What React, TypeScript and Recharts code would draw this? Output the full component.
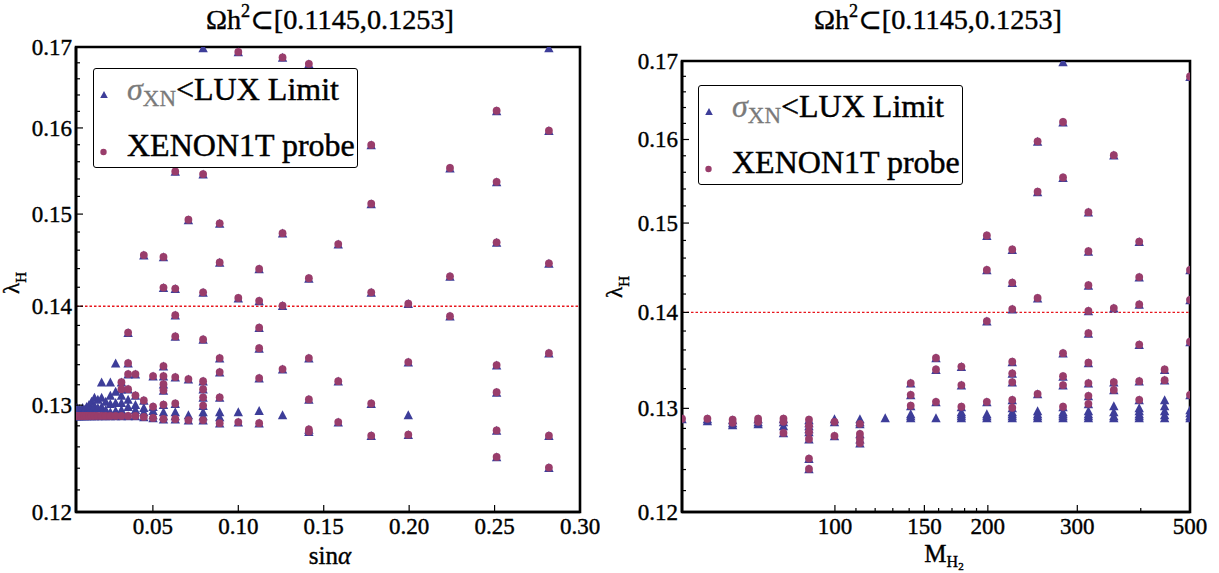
import React from 'react';
import { ScatterChart, Scatter, XAxis, YAxis, ReferenceLine, ReferenceArea, Legend } from 'recharts';

const FONT = '"Liberation Serif", "DejaVu Serif", serif';
const LUX_COLOR = '#3d3d99';
const XE_COLOR = '#993d6b';
const LIMIT_COLOR = '#e8161d';
const AXIS = { stroke: '#000', strokeWidth: 2.6 };
const TXT: React.CSSProperties = { fontFamily: FONT, fill: '#000', stroke: '#000', strokeWidth: 0.4 };

const lambdaMajor = [0.12, 0.13, 0.14, 0.15, 0.16, 0.17];
const lambdaMajorLabels = ['0.12', '0.13', '0.14', '0.15', '0.16', '0.17'];
const lambdaMinor = [
  0.122, 0.124, 0.126, 0.128, 0.132, 0.134, 0.136, 0.138, 0.142, 0.144, 0.146, 0.148,
  0.152, 0.154, 0.156, 0.158, 0.162, 0.164, 0.166, 0.168,
];
const sinMajor = [0.05, 0.1, 0.15, 0.2, 0.25, 0.3];
const sinMajorLabels = ['0.05', '0.10', '0.15', '0.20', '0.25', '0.30'];
const massMajor = [100, 150, 200, 300, 500];
const massMajorLabels = ['100', '150', '200', '300', '500'];
const massMinor = [110, 120, 130, 140, 160, 170, 180, 190, 400];

const titleMain = 'Ωh';
const titleSup = '2';
const titleRest = '⊂[0.1145,0.1253]';
const limitLambda = 0.14;

const leftBoth: [number, number][] = [
  [0.005, 0.1289], [0.0056, 0.1289], [0.0063, 0.1289], [0.0071, 0.1289], [0.0079, 0.1289], [0.0089, 0.1289],
  [0.01, 0.1289], [0.0112, 0.1289], [0.0126, 0.1289], [0.0141, 0.1289], [0.0158, 0.1289], [0.0178, 0.1289],
  [0.02, 0.1289], [0.0224, 0.1289], [0.0251, 0.1289], [0.0282, 0.1289], [0.0316, 0.1289],
  [0.0316, 0.1322], [0.0316, 0.1315],
  [0.0355, 0.1372], [0.0355, 0.1341], [0.0355, 0.133], [0.0355, 0.1315], [0.0355, 0.1289],
  [0.0398, 0.133], [0.0398, 0.1309], [0.0398, 0.1289],
  [0.0447, 0.1454], [0.0447, 0.1304], [0.0447, 0.1288],
  [0.0501, 0.1328], [0.0501, 0.1298], [0.0501, 0.1287],
  [0.0562, 0.1452], [0.0562, 0.1419], [0.0562, 0.1338], [0.0562, 0.1328], [0.0562, 0.132], [0.0562, 0.1314], [0.0562, 0.13], [0.0562, 0.1286],
  [0.0631, 0.1548], [0.0631, 0.1418], [0.0631, 0.139], [0.0631, 0.1368], [0.0631, 0.1327], [0.0631, 0.1301], [0.0631, 0.1286],
  [0.0708, 0.1493], [0.0708, 0.1325], [0.0708, 0.1285],
  [0.0794, 0.1545], [0.0794, 0.1414], [0.0794, 0.1365], [0.0794, 0.1323], [0.0794, 0.1315], [0.0794, 0.1307], [0.0794, 0.1299], [0.0794, 0.1285],
  [0.0891, 0.1489], [0.0891, 0.1446], [0.0891, 0.1346], [0.0891, 0.1332], [0.0891, 0.1307], [0.0891, 0.1282],
  [0.1, 0.1693], [0.1, 0.1408], [0.1, 0.1283],
  [0.1122, 0.1439], [0.1122, 0.1405], [0.1122, 0.1377], [0.1122, 0.1356], [0.1122, 0.1326], [0.1122, 0.1282],
  [0.1259, 0.1686], [0.1259, 0.1478], [0.1259, 0.14], [0.1259, 0.1335],
  [0.1413, 0.1678], [0.1413, 0.1429], [0.1413, 0.1346], [0.1413, 0.1305], [0.1413, 0.1276], [0.1413, 0.1274],
  [0.1585, 0.1466], [0.1585, 0.1323], [0.1585, 0.1283],
  [0.1778, 0.1579], [0.1778, 0.1511], [0.1778, 0.1414], [0.1778, 0.1301], [0.1778, 0.127],
  [0.1995, 0.1402], [0.1995, 0.1342], [0.1995, 0.1271],
  [0.2239, 0.1552], [0.2239, 0.1431], [0.2239, 0.1389],
  [0.2512, 0.162], [0.2512, 0.1536], [0.2512, 0.1468], [0.2512, 0.1339], [0.2512, 0.1312], [0.2512, 0.1275], [0.2512, 0.125],
  [0.2818, 0.1596], [0.2818, 0.1445], [0.2818, 0.1351], [0.2818, 0.127], [0.2818, 0.124],
];

const leftLuxOnly: [number, number][] = [
  [0.005, 0.1292], [0.005, 0.1296], [0.0056, 0.1297], [0.0056, 0.1292], [0.0063, 0.1294],
  [0.0071, 0.1296], [0.0071, 0.1292], [0.0079, 0.1294], [0.0089, 0.1297], [0.0089, 0.1292],
  [0.01, 0.1295], [0.0112, 0.1298], [0.0112, 0.1293], [0.0126, 0.13], [0.0126, 0.1294],
  [0.0141, 0.1303], [0.0141, 0.1296], [0.0158, 0.1307], [0.0158, 0.1299], [0.0158, 0.1293],
  [0.0178, 0.1305], [0.0178, 0.1297], [0.02, 0.1322], [0.02, 0.1307], [0.02, 0.1298], [0.02, 0.1292],
  [0.0224, 0.1303], [0.0224, 0.1295], [0.0251, 0.1322], [0.0251, 0.1309], [0.0251, 0.1301], [0.0251, 0.1293],
  [0.0282, 0.1341], [0.0282, 0.1313], [0.0282, 0.1302], [0.0282, 0.1294],
  [0.0316, 0.1309], [0.0316, 0.1302], [0.0316, 0.1295], [0.0355, 0.1305], [0.0355, 0.1298],
  [0.0398, 0.13], [0.0398, 0.1295], [0.0447, 0.1297], [0.0447, 0.1293], [0.0501, 0.1294], [0.0501, 0.129],
  [0.0562, 0.1293], [0.0562, 0.1289], [0.0631, 0.1293], [0.0631, 0.1289], [0.0708, 0.129],
  [0.0794, 0.1293], [0.0794, 0.1289], [0.0891, 0.1293], [0.0891, 0.1288], [0.0794, 0.1698],
  [0.1, 0.1293], [0.1122, 0.1294], [0.1259, 0.129], [0.1995, 0.129], [0.2818, 0.1698],
];

const rightBoth: [number, number][] = [
  [50, 0.1289], [56.1, 0.1289], [62.9, 0.1288], [62.9, 0.1285], [70.6, 0.1289], [70.6, 0.1286],
  [79.2, 0.1289], [79.2, 0.1286], [79.2, 0.1275],
  [88.9, 0.1288], [88.9, 0.1282], [88.9, 0.1276], [88.9, 0.1269], [88.9, 0.125], [88.9, 0.124],
  [99.8, 0.1286], [99.8, 0.1272],
  [112, 0.1284], [112, 0.1274], [112, 0.1269], [112, 0.1265],
  [141, 0.1325], [141, 0.1313], [141, 0.1302],
  [158.1, 0.1351], [158.1, 0.1339], [158.1, 0.1306],
  [177.4, 0.1342], [177.4, 0.1323], [177.4, 0.1301],
  [199.1, 0.1485], [199.1, 0.1446], [199.1, 0.139], [199.1, 0.1306],
  [223.4, 0.1469], [223.4, 0.1432], [223.4, 0.1403], [223.4, 0.1347], [223.4, 0.1335], [223.4, 0.1326], [223.4, 0.1308], [223.4, 0.13],
  [250.6, 0.1597], [250.6, 0.1536], [250.6, 0.1415], [250.6, 0.1314],
  [281.2, 0.1621], [281.2, 0.1553], [281.2, 0.1356], [281.2, 0.1332], [281.2, 0.1323], [281.2, 0.1301],
  [315.5, 0.1512], [315.5, 0.1467], [315.5, 0.1429], [315.5, 0.1401], [315.5, 0.1377], [315.5, 0.1346], [315.5, 0.1325], [315.5, 0.1312], [315.5, 0.1304],
  [354, 0.158], [354, 0.1404], [354, 0.1326], [354, 0.1318],
  [397.2, 0.1478], [397.2, 0.1438], [397.2, 0.1408], [397.2, 0.1365], [397.2, 0.1327], [397.2, 0.1308],
  [445.7, 0.1339], [445.7, 0.1328],
  [500, 0.1679], [500, 0.1446], [500, 0.1413], [500, 0.1368], [500, 0.1313],
];

const rightLuxOnly: [number, number][] = [
  [56.1, 0.1287], [62.9, 0.1283], [70.6, 0.1284], [79.2, 0.1282], [88.9, 0.1285], [88.9, 0.1279],
  [99.8, 0.1289], [112, 0.1289], [112, 0.1286], [125.6, 0.129],
  [141, 0.129], [141, 0.1292], [141, 0.1294], [158.1, 0.129],
  [177.4, 0.129], [177.4, 0.1292], [177.4, 0.1294], [177.4, 0.1296],
  [199.1, 0.129], [199.1, 0.1292], [199.1, 0.1294],
  [223.4, 0.129], [223.4, 0.1292], [223.4, 0.1294], [223.4, 0.1296],
  [250.6, 0.129], [250.6, 0.1292], [250.6, 0.1294], [250.6, 0.1297],
  [281.2, 0.129], [281.2, 0.1292], [281.2, 0.1294], [281.2, 0.1296], [281.2, 0.1698],
  [315.5, 0.129], [315.5, 0.1292], [315.5, 0.1294], [315.5, 0.1297],
  [354, 0.129], [354, 0.1292], [354, 0.1296], [354, 0.1302],
  [397.2, 0.129], [397.2, 0.1292], [397.2, 0.1294], [397.2, 0.1297], [397.2, 0.13],
  [445.7, 0.129], [445.7, 0.1293], [445.7, 0.1297], [445.7, 0.1302], [445.7, 0.1308],
  [500, 0.129], [500, 0.1292], [500, 0.1295], [500, 0.1298],
];

const toPts = (arr: [number, number][]) => arr.map(([x, y]) => ({ x, y }));

const TriangleShape = (p: any) => {
  const { cx, cy } = p;
  if (cx == null || cy == null) return <g />;
  return <polygon points={`${cx},${cy - 5.2} ${cx - 4.7},${cy + 3.8} ${cx + 4.7},${cy + 3.8}`} fill={LUX_COLOR} />;
};
const DotShape = (p: any) => {
  const { cx, cy } = p;
  if (cx == null || cy == null) return <g />;
  return <circle cx={cx} cy={cy - 0.6} r={3.9} fill={XE_COLOR} />;
};

const findIdx = (v: number, arr: number[]) => arr.findIndex((a) => Math.abs(a - v) < 1e-9);

const makeTick = (side: 'left' | 'right' | 'top' | 'bottom', majors: number[], labels: string[] | null) => (p: any) => {
  const { x, y, payload } = p;
  const idx = findIdx(payload.value, majors);
  const len = idx >= 0 ? 7 : 4;
  let x2 = x;
  let y2 = y;
  if (side === 'left') x2 = x + len;
  if (side === 'right') x2 = x - len;
  if (side === 'bottom') y2 = y - len;
  if (side === 'top') y2 = y + len;
  return (
    <g>
      <line x1={x} y1={y} x2={x2} y2={y2} style={{ stroke: '#000', strokeWidth: 1.2 }} />
      {labels && idx >= 0 && side === 'left' && (
        <text x={x - 4} y={y + 8} textAnchor="end" fontSize={23} style={TXT}>
          {labels[idx]}
        </text>
      )}
      {labels && idx >= 0 && side === 'bottom' && (
        <text x={x} y={y + 22} textAnchor="middle" fontSize={23} style={TXT}>
          {labels[idx]}
        </text>
      )}
    </g>
  );
};

const BottomLabels = ({ titleX, labelX, labelY, kind }: any) => (
  <g>
    <text
      x={titleX - 124}
      y={29}
      fontSize={28}
      textAnchor="start"
      textLength={248}
      lengthAdjust="spacingAndGlyphs"
      style={TXT}
    >
      {titleMain}
      <tspan fontSize={18} dy={-12}>{titleSup}</tspan>
      <tspan dy={12}>{titleRest}</tspan>
    </text>
    {kind === 'sin' ? (
      <text x={labelX} y={labelY} textAnchor="middle" fontSize={25} style={TXT}>
        sin<tspan fontStyle="italic">α</tspan>
      </text>
    ) : (
      <text x={labelX} y={labelY} textAnchor="middle" fontSize={25} style={TXT}>
        M<tspan fontSize={16} dy={5}>H</tspan>
        <tspan fontSize={11} dy={3}>2</tspan>
      </text>
    )}
  </g>
);

const LambdaLabel = ({ px, py }: any) => (
  <text transform={`translate(${px},${py}) rotate(-90)`} textAnchor="middle" fontSize={23} style={TXT}>
    λ<tspan fontSize={15} dy={7}>H</tspan>
  </text>
);

const LEG_TXT: React.CSSProperties = { fontFamily: FONT, fill: '#000', stroke: '#000', strokeWidth: 0.45 };
const LEG_GRAY: React.CSSProperties = { fill: '#7a7a7a', stroke: '#7a7a7a', strokeWidth: 0.3 };

const LegendBox = () => (
  <div
    style={{
      width: 265,
      height: 100,
      border: '1.5px solid #000',
      borderRadius: 3,
      background: '#fff',
      boxSizing: 'border-box',
      position: 'relative',
    }}
  >
    <svg width={265} height={100} style={{ position: 'absolute', left: -1.5, top: -1.5, overflow: 'visible' }}>
      <polygon points="11,23 7.2,30 14.8,30" fill={LUX_COLOR} />
      <text x={34} y={32} fontSize={32} style={LEG_TXT}>
        <tspan style={LEG_GRAY} fontStyle="italic">σ</tspan>
        <tspan style={LEG_GRAY} fontSize={23} dy={6}>XN</tspan>
        <tspan dy={-6}>&lt;LUX Limit</tspan>
      </text>
      <circle cx={10.5} cy={84} r={3.2} fill={XE_COLOR} />
      <text x={34} y={88} fontSize={32} style={LEG_TXT}>
        XENON1T probe
      </text>
    </svg>
  </div>
);

type PanelProps = {
  left: number;
  width: number;
  margin: { top: number; right: number; bottom: number; left: number };
  yAxisWidth: number;
  xScale: 'linear' | 'log';
  xDomain: [number, number];
  xTicks: number[];
  xMajor: number[];
  xLabels: string[];
  both: [number, number][];
  luxOnly: [number, number][];
  legendPos: { left: number; top: number };
  titleX: number;
  labelX: number;
  labelY: number;
  kind: string;
  yLabelPos: { px: number; py: number };
};

const Panel = (p: PanelProps) => (
  <div style={{ position: 'absolute', left: p.left, top: 0, width: p.width, height: 573, fontFamily: FONT }}>
    <ScatterChart width={p.width} height={573} margin={p.margin}>
      <XAxis
        xAxisId="b"
        orientation="bottom"
        type="number"
        dataKey="x"
        scale={p.xScale}
        domain={p.xDomain}
        allowDataOverflow
        ticks={p.xTicks}
        interval={0}
        height={61}
        tickSize={0}
        tickMargin={0}
        tickLine={false}
        axisLine={AXIS}
        stroke="#000"
        tick={makeTick('bottom', p.xMajor, p.xLabels)}
        label={<BottomLabels titleX={p.titleX} labelX={p.labelX} labelY={p.labelY} kind={p.kind} />}
      />
      <XAxis
        xAxisId="t"
        orientation="top"
        type="number"
        scale={p.xScale}
        domain={p.xDomain}
        allowDataOverflow
        ticks={p.xTicks}
        interval={0}
        height={0}
        tickSize={0}
        tickMargin={0}
        tickLine={false}
        axisLine={AXIS}
        stroke="#000"
        tick={makeTick('top', p.xMajor, null)}
      />
      <YAxis
        yAxisId="l"
        orientation="left"
        type="number"
        dataKey="y"
        scale="log"
        domain={[0.12, 0.17]}
        allowDataOverflow
        ticks={[...lambdaMajor, ...lambdaMinor]}
        interval={0}
        width={p.yAxisWidth}
        tickSize={0}
        tickMargin={0}
        tickLine={false}
        axisLine={AXIS}
        stroke="#000"
        tick={makeTick('left', lambdaMajor, lambdaMajorLabels)}
        label={<LambdaLabel px={p.yLabelPos.px} py={p.yLabelPos.py} />}
      />
      <YAxis
        yAxisId="r"
        orientation="right"
        type="number"
        scale="log"
        domain={[0.12, 0.17]}
        allowDataOverflow
        ticks={[...lambdaMajor, ...lambdaMinor]}
        interval={0}
        width={0}
        tickSize={0}
        tickMargin={0}
        tickLine={false}
        axisLine={AXIS}
        stroke="#000"
        tick={makeTick('right', lambdaMajor, null)}
      />
      <ReferenceArea
        xAxisId="b"
        yAxisId="l"
        x1={p.xDomain[0]}
        x2={p.xDomain[1]}
        y1={0.12}
        y2={0.17}
        fill="none"
        fillOpacity={0}
        stroke="#000"
        strokeWidth={2.6}
        strokeOpacity={1}
        ifOverflow="visible"
      />
      <ReferenceLine
        xAxisId="b"
        yAxisId="l"
        y={limitLambda}
        stroke={LIMIT_COLOR}
        strokeWidth={1.4}
        strokeDasharray="2.5 2"
      />
      <Scatter
        name="LUX"
        xAxisId="b"
        yAxisId="l"
        data={toPts([...p.luxOnly, ...p.both])}
        shape={TriangleShape}
        isAnimationActive={false}
      />
      <Scatter
        name="XENON1T"
        xAxisId="b"
        yAxisId="l"
        data={toPts(p.both)}
        shape={DotShape}
        isAnimationActive={false}
      />
      <Legend
        layout="vertical"
        align="center"
        verticalAlign="middle"
        content={() => <LegendBox />}
        wrapperStyle={{ position: 'absolute', left: p.legendPos.left, top: p.legendPos.top, width: 265, height: 100 }}
      />
    </ScatterChart>
  </div>
);

export default function App() {
  return (
    <div style={{ position: 'absolute', left: 0, top: 0, width: 1219, height: 573, background: '#fff', overflow: 'hidden', fontFamily: FONT }}>
      <Panel
        left={0}
        width={600}
        margin={{ top: 47, right: 20, bottom: 0, left: 0 }}
        yAxisWidth={76}
        xScale="linear"
        xDomain={[0.005, 0.3]}
        xTicks={sinMajor}
        xMajor={sinMajor}
        xLabels={sinMajorLabels}
        both={leftBoth}
        luxOnly={leftLuxOnly}
        legendPos={{ left: 93, top: 68 }}
        titleX={330}
        labelX={330}
        labelY={564}
        kind="sin"
        yLabelPos={{ px: 19, py: 283 }}
      />
      <Panel
        left={600}
        width={619}
        margin={{ top: 61, right: 29, bottom: 0, left: 0 }}
        yAxisWidth={82}
        xScale="log"
        xDomain={[50, 500]}
        xTicks={[...massMajor, ...massMinor]}
        xMajor={massMajor}
        xLabels={massMajorLabels}
        both={rightBoth}
        luxOnly={rightLuxOnly}
        legendPos={{ left: 98, top: 85 }}
        titleX={338}
        labelX={344}
        labelY={562}
        kind="mass"
        yLabelPos={{ px: 22, py: 287 }}
      />
    </div>
  );
}
